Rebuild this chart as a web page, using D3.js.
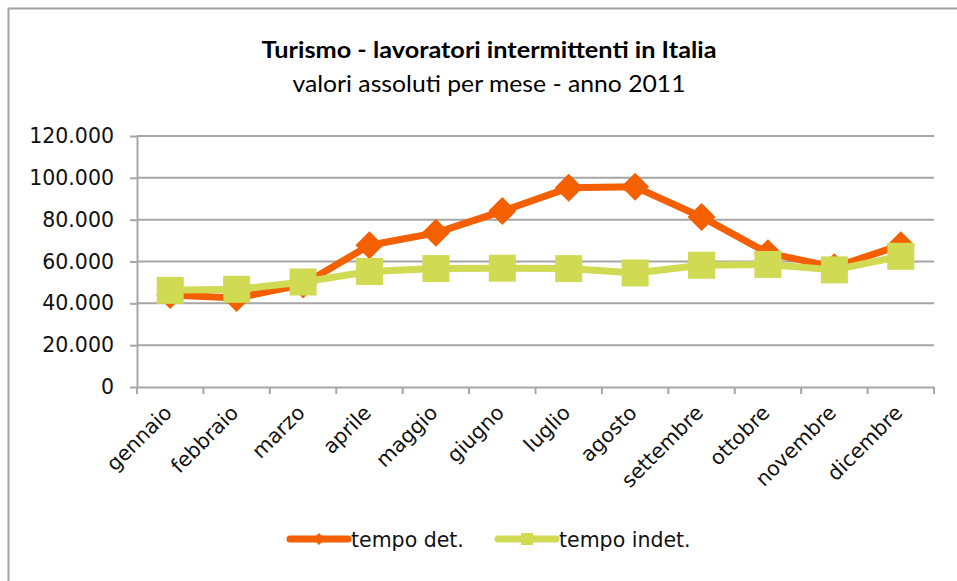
<!DOCTYPE html>
<html>
<head>
<meta charset="utf-8">
<script src="https://cdn.jsdelivr.net/npm/d3@7"></script>
<style>
  body { margin: 0; background: #fff; }
  svg { display: block; }
  .tick text { font-family: "DejaVu Sans", Verdana, sans-serif; font-size: 20.5px; fill: #111; }
</style>
</head>
<body>
<div id="chart"></div>
<script>
const months = ['gennaio', 'febbraio', 'marzo', 'aprile', 'maggio', 'giugno',
    'luglio', 'agosto', 'settembre', 'ottobre', 'novembre', 'dicembre'];
const tempoDet = [44000, 42500, 49000, 67800, 73700, 84100, 95200, 95700, 81300, 64000, 57300, 67800];
const tempoIndet = [46200, 46700, 50200, 55200, 56600, 56800, 56600, 54500, 58200, 58600, 56000, 62500];
const yTicks = [0, 20000, 40000, 60000, 80000, 100000, 120000];
const seriesNames = ['tempo det.', 'tempo indet.'];

const width = 957, height = 581;
const margin = {top: 136, right: 23, bottom: 194, left: 137};
const innerW = width - margin.left - margin.right,
    innerH = height - margin.top - margin.bottom;

const orange = '#f45f00', green = '#d0da52', grid = '#a6a6a6';

const svg = d3.select('#chart').append('svg')
    .attr('width', width)
    .attr('height', height);

// outer frame of the chart
svg.append('rect')
    .attr('x', 8.5).attr('y', 8.5)
    .attr('width', 1000).attr('height', 1000)
    .attr('fill', 'none')
    .attr('stroke', '#a3a3a3')
    .attr('stroke-width', 2);

svg.append('text')
    .attr('x', 489).attr('y', 58)
    .attr('text-anchor', 'middle')
    .attr('font-family', 'Lato, sans-serif')
    .attr('font-weight', 'bold')
    .attr('font-size', 23)
    .attr('textLength', 455)
    .attr('lengthAdjust', 'spacingAndGlyphs')
    .text('Turismo - lavoratori intermittenti in Italia');

svg.append('text')
    .attr('x', 489).attr('y', 92)
    .attr('text-anchor', 'middle')
    .attr('font-family', 'Lato, sans-serif')
    .attr('font-size', 23)
    .attr('textLength', 393)
    .attr('lengthAdjust', 'spacingAndGlyphs')
    .text('valori assoluti per mese - anno 2011');

const g = svg.append('g')
    .attr('transform', `translate(${margin.left}, ${margin.top})`);

const xScale = d3.scaleBand()
    .domain(months)
    .range([0, innerW]);

const yScale = d3.scaleLinear()
    .domain([0, 120000])
    .range([innerH, 0]);

const fmt = d3.formatLocale({decimal: ',', thousands: '.', grouping: [3], currency: ['', '€']}).format(',d');

// horizontal gridlines
g.selectAll('.grid')
    .data(yTicks.slice(1))
    .enter()
    .append('line')
    .attr('class', 'grid')
    .attr('x1', 0).attr('x2', innerW)
    .attr('y1', d => yScale(d)).attr('y2', d => yScale(d))
    .attr('stroke', grid)
    .attr('stroke-width', 2);

const yAxis = d3.axisLeft(yScale)
    .tickValues(yTicks)
    .tickFormat(fmt)
    .tickSize(7)
    .tickPadding(16)
    .tickSizeOuter(0);

const yAxisGroup = g.append('g')
    .attr('class', 'axis y-axis')
    .call(yAxis);

const xAxis = d3.axisBottom(xScale)
    .tickSize(0)
    .tickSizeOuter(0);

const xAxisGroup = g.append('g')
    .attr('class', 'axis x-axis')
    .attr('transform', `translate(0, ${innerH})`)
    .call(xAxis);

// ticks between categories
xAxisGroup.selectAll('.sep')
    .data(months.concat(['end']))
    .enter()
    .append('line')
    .attr('class', 'sep')
    .attr('x1', (d, i) => i * xScale.step())
    .attr('x2', (d, i) => i * xScale.step())
    .attr('y1', 0).attr('y2', 7)
    .attr('stroke', grid)
    .attr('stroke-width', 2);

xAxisGroup.selectAll('.tick text')
    .attr('text-anchor', 'end')
    .attr('y', 0)
    .attr('dy', 0)
    .attr('transform', 'translate(3, 27) rotate(-45)');

[yAxisGroup, xAxisGroup].forEach(ax => {
    ax.selectAll('.domain').attr('stroke', grid).attr('stroke-width', 2);
    ax.selectAll('.tick line').attr('stroke', grid).attr('stroke-width', 2);
});

const cx = d => xScale(d) + xScale.bandwidth() / 2;

const line = d3.line()
    .x(d => cx(d.m))
    .y(d => yScale(d.v));

const detData = months.map((m, i) => ({m, v: tempoDet[i]}));
const indetData = months.map((m, i) => ({m, v: tempoIndet[i]}));

g.append('path')
    .datum(detData)
    .attr('d', line)
    .attr('fill', 'none')
    .attr('stroke', orange)
    .attr('stroke-width', 7)
    .attr('stroke-linejoin', 'round');

g.selectAll('.diamond')
    .data(detData)
    .enter()
    .append('path')
    .attr('class', 'diamond')
    .attr('d', 'M0,-14L14,0L0,14L-14,0Z')
    .attr('transform', d => `translate(${cx(d.m)}, ${yScale(d.v)})`)
    .attr('fill', orange);

g.append('path')
    .datum(indetData)
    .attr('d', line)
    .attr('fill', 'none')
    .attr('stroke', green)
    .attr('stroke-width', 7)
    .attr('stroke-linejoin', 'round');

g.selectAll('.square')
    .data(indetData)
    .enter()
    .append('rect')
    .attr('class', 'square')
    .attr('x', d => cx(d.m) - 13.5)
    .attr('y', d => yScale(d.v) - 13.5)
    .attr('width', 27).attr('height', 27)
    .attr('fill', green);

// legend
const legend = svg.append('g').attr('transform', 'translate(0, 539)');
const legendItems = [
    {name: seriesNames[0], color: orange, x: 290, marker: 'diamond'},
    {name: seriesNames[1], color: green, x: 498, marker: 'square'}
];
legendItems.forEach(it => {
    legend.append('line')
        .attr('x1', it.x).attr('x2', it.x + 58)
        .attr('y1', 0).attr('y2', 0)
        .attr('stroke', it.color)
        .attr('stroke-width', 7)
        .attr('stroke-linecap', 'round');
    if (it.marker === 'diamond') {
        legend.append('path')
            .attr('d', 'M0,-6L6,0L0,6L-6,0Z')
            .attr('transform', `translate(${it.x + 29}, 0)`)
            .attr('fill', it.color);
    } else {
        legend.append('rect')
            .attr('x', it.x + 29 - 6).attr('y', -6)
            .attr('width', 12).attr('height', 12)
            .attr('fill', it.color);
    }
    legend.append('text')
        .attr('x', it.x + 61).attr('y', 8)
        .attr('font-family', '"DejaVu Sans", Verdana, sans-serif')
        .attr('font-size', 20.5)
        .attr('fill', '#111')
        .text(it.name);
});
</script>
</body>
</html>
